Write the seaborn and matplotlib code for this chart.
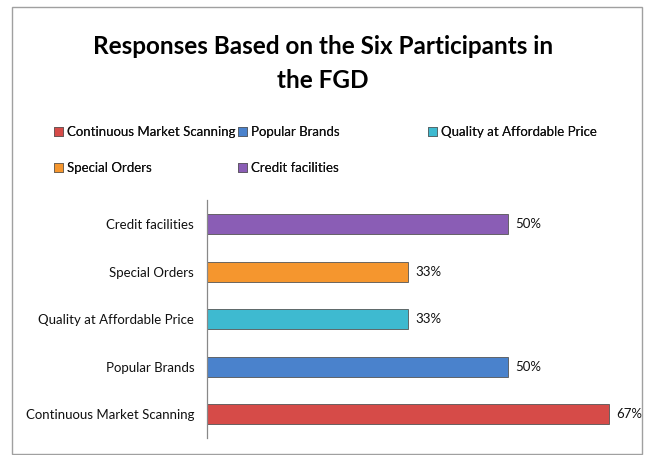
import matplotlib
matplotlib.use('Agg')
import matplotlib.pyplot as plt
import matplotlib.patches as mpatches
import seaborn as sns
import pandas as pd

# data
categories = ['Credit facilities', 'Special Orders', 'Quality at Affordable Price',
              'Popular Brands', 'Continuous Market Scanning']
values = [50.0, 33.33, 33.33, 50.0, 66.67]
labels = ['50%', '33%', '33%', '50%', '67%']
colors = ['#8A5DB5', '#F5962E', '#3EBAD0', '#4A82CC', '#D64B48']

df = pd.DataFrame({'Category': categories, 'Percent': values})

sns.set_style('white')
plt.rcParams['font.family'] = ['Lato', 'DejaVu Sans']

fig = plt.figure(figsize=(6.46, 4.55), dpi=100)
ax = fig.add_axes([0.320, 0.037, 0.663, 0.523])

sns.barplot(data=df, x='Percent', y='Category', hue='Category', palette=colors,
            orient='h', width=0.42, legend=False, ax=ax, saturation=1,
            edgecolor='#555555', linewidth=0.6)

for i, (v, lab) in enumerate(zip(values, labels)):
    ax.text(v + 1.2, i, lab, va='center', ha='left', fontsize=9.5, color='#111111')

ax.set_xlim(0, 71)
ax.set_ylim(4.5, -0.5)
ax.set_xlabel('')
ax.set_ylabel('')
ax.set_xticks([])
ax.tick_params(axis='y', labelsize=9.5, length=0, pad=9, labelcolor='#111111')
for s in ['top', 'right', 'bottom']:
    ax.spines[s].set_visible(False)
ax.spines['left'].set_color('#888888')
ax.spines['left'].set_linewidth(0.9)

fig.text(0.5, 0.86, 'Responses Based on the Six Participants in\nthe FGD',
         ha='center', va='center', fontsize=17.5, fontweight='bold',
         linespacing=1.6, color='black')

# legend, three columns placed like the original
handles = {c: mpatches.Patch(facecolor=col, edgecolor='#555555', linewidth=0.5)
           for c, col in zip(categories, colors)}
columns = [
    (['Continuous Market Scanning', 'Special Orders'], 0.083),
    (['Popular Brands', 'Credit facilities'], 0.368),
    (['Quality at Affordable Price'], 0.662),
]
for names, xpos in columns:
    leg = fig.legend([handles[n] for n in names], names, loc='upper left',
                     bbox_to_anchor=(xpos, 0.722), frameon=False, fontsize=9.5,
                     handlelength=0.7, handleheight=0.7, handletextpad=0.3,
                     labelspacing=1.8, borderaxespad=0, borderpad=0,
                     labelcolor='#111111')
    fig.add_artist(leg)

# chart area border
fig.add_artist(mpatches.Rectangle((12 / 646, 0.002), 630 / 646, 1 - 7 / 455 - 0.002,
                                  transform=fig.transFigure, fill=False,
                                  edgecolor='#A0A0A0', linewidth=1.0))

fig.savefig('out.png', dpi=100)
